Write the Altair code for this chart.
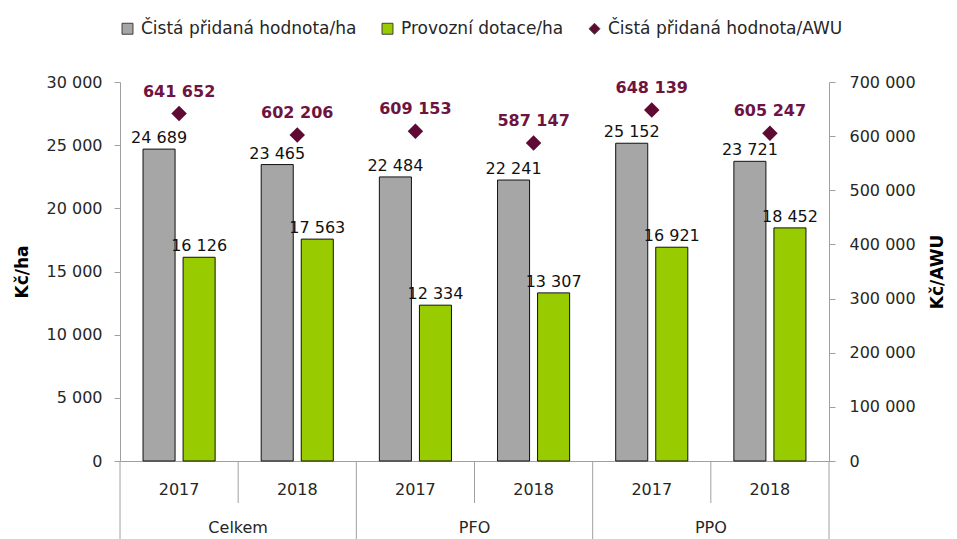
import altair as alt
import pandas as pd

groups = ["Celkem", "Celkem", "PFO", "PFO", "PPO", "PPO"]
years = ["2017", "2018", "2017", "2018", "2017", "2018"]
cph_ha = [24689, 23465, 22484, 22241, 25152, 23721]
dotace_ha = [16126, 17563, 12334, 13307, 16921, 18452]
cph_awu = [641652, 602206, 609153, 587147, 648139, 605247]

series = ["Čistá přidaná hodnota/ha", "Provozní dotace/ha", "Čistá přidaná hodnota/AWU"]
colors = ["#a6a6a6", "#99cc00", "#5e0a32"]

cats = [f"{g} {y}" for g, y in zip(groups, years)]

bar_rows = []
for c, a, b in zip(cats, cph_ha, dotace_ha):
    bar_rows.append({"cat": c, "series": series[0], "value": a})
    bar_rows.append({"cat": c, "series": series[1], "value": b})
bar_df = pd.DataFrame(bar_rows)
pt_df = pd.DataFrame({"cat": cats, "series": series[2], "value": cph_awu})
cat_df = pd.DataFrame({"cat": cats, "group": groups, "year": years})

W, H = 709, 379
FONT = "DejaVu Sans"
GRAY = "#a0a0a0"
fmt = "replace(format(datum.value, ',d'), regexp(',', 'g'), ' ')"

xscale = alt.Scale(domain=cats, paddingInner=0, paddingOuter=0)
xaxis = alt.Axis(labels=False, ticks=False, title=None, grid=False, domainColor=GRAY)
X = alt.X("cat:N", scale=xscale, axis=xaxis)
xoff = alt.XOffset("series:N", scale=alt.Scale(domain=series[:2], paddingInner=0.2, paddingOuter=0.575))

def make_legend():
    return alt.Legend(orient="none", direction="horizontal", legendX=-1, legendY=-62,
                      title=None, labelFont=FONT, labelFontSize=17, labelColor="#262626",
                      labelLimit=0, symbolSize=120, symbolStrokeColor="#404040",
                      symbolStrokeWidth=1, columnPadding=22, labelOffset=5)

color = alt.Color("series:N", scale=alt.Scale(domain=series, range=colors), legend=make_legend())
shape = alt.Shape("series:N", scale=alt.Scale(domain=series, range=["square", "square", "diamond"]),
                  legend=make_legend())

yleft = alt.Y("value:Q", scale=alt.Scale(domain=[0, 30000], nice=False),
              axis=alt.Axis(values=list(range(0, 30001, 5000)), labelExpr=fmt, grid=False,
                            domainColor=GRAY, tickColor=GRAY, tickSize=6, labelPadding=12,
                            labelFont=FONT, labelFontSize=16, labelColor="#262626",
                            title="Kč/ha", titleFont=FONT, titleFontSize=17, titleFontWeight="bold",
                            titleColor="#000", titlePadding=15))
yright = alt.Y("value:Q", scale=alt.Scale(domain=[0, 700000], nice=False),
               axis=alt.Axis(orient="right", values=list(range(0, 700001, 100000)), labelExpr=fmt,
                             grid=False, domainColor=GRAY, tickColor=GRAY, tickSize=6, labelPadding=14,
                             labelFont=FONT, labelFontSize=16, labelColor="#262626",
                             title="Kč/AWU", titleFont=FONT, titleFontSize=17, titleFontWeight="bold",
                             titleColor="#000", titleAngle=-90, titleBaseline="top", titlePadding=14))

bars = alt.Chart(bar_df).mark_bar(stroke="#111", strokeWidth=1).encode(
    x=X, xOffset=xoff, y=yleft, color=color)
bar_labels = alt.Chart(bar_df).transform_calculate(
    label=fmt
).mark_text(font=FONT, fontSize=16, baseline="bottom", dy=-3, color="#111").encode(
    x=X, xOffset=xoff, y=yleft, text="label:N")

points = alt.Chart(pt_df).mark_point(filled=True, size=240, opacity=1).encode(
    x=X, y=yright, color=color, shape=shape)
pt_labels = alt.Chart(pt_df).transform_calculate(
    label=fmt
).mark_text(font=FONT, fontSize=16, fontWeight="bold", baseline="bottom", dy=-14, color="#6e1442").encode(
    x=X, y=yright, text="label:N")

year_text = alt.Chart(cat_df).mark_text(font=FONT, fontSize=16, color="#262626").encode(
    x=X, y=alt.value(H + 29), text="year:N")
group_text = alt.Chart(cat_df).transform_filter("datum.year == '2017'").mark_text(
    font=FONT, fontSize=16, color="#262626").encode(
    x=alt.X("cat:N", scale=xscale, axis=xaxis, bandPosition=1), y=alt.value(H + 67), text="group:N")
short_sep = alt.Chart(cat_df).transform_filter("datum.year == '2018'").mark_rule(color=GRAY).encode(
    x=alt.X("cat:N", scale=xscale, axis=xaxis, bandPosition=0), y=alt.value(H), y2=alt.value(H + 42))
long_sep = alt.Chart(cat_df).transform_filter("datum.year == '2017'").mark_rule(color=GRAY).encode(
    x=alt.X("cat:N", scale=xscale, axis=xaxis, bandPosition=0), y=alt.value(H), y2=alt.value(H + 95))
end_sep = alt.Chart(cat_df).transform_filter(f"datum.cat == '{cats[-1]}'").mark_rule(color=GRAY).encode(
    x=alt.X("cat:N", scale=xscale, axis=xaxis, bandPosition=1), y=alt.value(H), y2=alt.value(H + 95))

left = alt.layer(bars, bar_labels)
right = alt.layer(points, pt_labels)

chart = alt.layer(left, right, year_text, group_text, short_sep, long_sep, end_sep).resolve_scale(
    y="independent"
).properties(
    width=W, height=H,
    autosize=alt.AutoSizeParams(type="none"),
    padding={"left": 112, "top": 74, "right": 120, "bottom": 90},
).configure_view(stroke=None)

chart.save("out.html", embed_options={"renderer": "svg", "actions": False})
